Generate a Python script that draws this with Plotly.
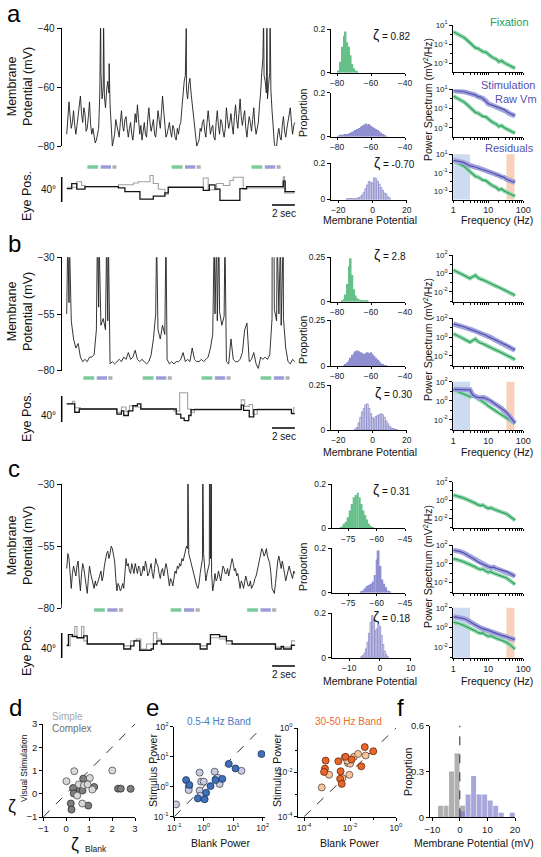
import plotly.graph_objects as go

# ============================ DATA ============================
DT_A, DT_B, DT_C = 0.1, 0.2, 0.1  # s between digitised Vm samples

VM_A = [
    -76, -71, -65, -70, -74, -72, -68, -73, -76, -73, -70, -66, -63, -69, -72, -67, -69, -75, -74, -70,
    -65, -73, -76, -74, -77, -79, -78, -76, -74, -62, -55, -64, -60, -63, -67, -61, -58, -62, -66, -74,
    -80, -78, -76, -71, -73, -76, -77, -72, -68, -73, -75, -71, -70, -74, -77, -74, -72, -76, -78, -74,
    -69, -72, -66, -71, -76, -73, -78, -75, -72, -76, -77, -71, -67, -72, -75, -73, -71, -76, -77, -73,
    -68, -71, -74, -69, -63, -68, -73, -77, -76, -74, -72, -75, -77, -73, -74, -77, -78, -74, -76, -73,
    -72, -67, -62, -58, -56, -61, -64, -59, -57, -62, -66, -70, -72, -77, -80, -79, -78, -74, -75, -72,
    -71, -75, -77, -72, -68, -72, -76, -74, -73, -77, -78, -72, -68, -73, -76, -71, -72, -75, -77, -74,
    -67, -71, -74, -72, -69, -73, -76, -70, -66, -71, -74, -69, -64, -70, -73, -70, -68, -74, -77, -73,
    -70, -72, -75, -71, -67, -73, -76, -74, -72, -66, -62, -55, -50, -56, -58, -62, -64, -59, -55, -61,
    -68, -75, -79, -81, -80, -76, -74, -77, -78, -73, -70, -75, -77, -74, -72, -69, -67, -72, -76, -73,
    -72]
SPK_A_T = [2.97, 3.23, 3.72, 10.48, 17.26, 17.55, 17.83]
SPK_A_V = [-35, -35, -52, -40, -35, -35, -35]

VM_B = [
    -55, -50, -58, -66, -70, -68, -74, -76, -75, -76,
    -74, -74, -73, -62, -52, -60, -57, -62, -58, -77,
    -76, -77, -76, -75, -76, -74, -75, -72, -75, -74,
    -71, -75, -76, -75, -76, -77, -76, -73, -66, -55,
    -62, -66, -60, -64, -75, -77, -76, -77, -76, -76,
    -75, -72, -76, -75, -76, -70, -75, -76, -76, -75,
    -76, -75, -74, -70, -64, -55, -58, -54, -60, -56,
    -76, -77, -66, -75, -76, -76, -75, -72, -62, -59,
    -76, -75, -72, -77, -79, -74, -75, -74, -75, -73,
    -57, -53, -58, -55, -60, -57, -70, -76, -77, -75,
    -76]
SPK_B_T = [0.09, 0.23, 2.69, 2.83, 3.50, 3.65, 7.88, 8.70, 12.93, 13.14, 13.34,
           13.87, 18.01, 18.17, 18.45, 18.74, 18.98]
SPK_B_V = [-20, -20, -20, -20, -20, -20, -20, -20, -20, -20, -20,
           -20, -20, -20, -20, -20, -20]

VM_C = [
    -64, -58, -60, -67, -72, -66, -63, -65, -67, -63, -61, -68, -73, -66, -62, -64, -67, -71, -74, -68,
    -63, -66, -68, -71, -72, -69, -71, -70, -68, -66, -65, -69, -67, -63, -60, -58, -57, -60, -58, -55,
    -56, -58, -61, -68, -73, -70, -71, -73, -72, -70, -72, -66, -60, -63, -62, -65, -66, -62, -64, -66,
    -62, -64, -66, -63, -64, -67, -66, -63, -65, -61, -63, -67, -66, -64, -62, -66, -68, -64, -60, -62,
    -63, -66, -68, -65, -64, -67, -65, -62, -64, -68, -71, -68, -69, -71, -68, -65, -66, -63, -64, -62,
    -63, -60, -61, -59, -58, -55, -56, -58, -60, -62, -63, -66, -67, -70, -71, -72, -70, -66, -63, -60,
    -58, -64, -69, -66, -64, -62, -60, -66, -73, -70, -66, -69, -68, -65, -67, -69, -66, -63, -64, -66,
    -66, -64, -67, -65, -63, -60, -62, -65, -64, -67, -66, -70, -72, -69, -70, -72, -70, -67, -69, -71,
    -71, -69, -72, -71, -70, -68, -67, -65, -63, -60, -58, -56, -57, -59, -58, -56, -59, -61, -62, -66,
    -72, -73, -74, -70, -65, -61, -59, -62, -64, -61, -63, -66, -69, -67, -66, -63, -65, -67, -68, -65,
    -66]
SPK_C_T = [10.62, 11.93, 12.52, 12.57, 12.63, 12.68]
SPK_C_V = [-20, -20, -20, -20, -20, -20]

# eye position (deg), step traces: black = horizontal, gray = vertical
EYE_A_TK = [0, 0.44, 0.88, 1.6, 4.53, 5.1, 6.42, 7.59, 8.61, 8.9, 11.97, 12.5, 13.0, 13.43,
            15.18, 15.77, 18.98, 19.15, 20]
EYE_A_K = [-3, 5, -4, 0, -2, -8, -20, -15, -10, -1, -6, 3, -4, -22, -3, 0, 9, -8, -8]
EYE_A_TG = [0, 0.88, 1.31, 1.6, 4.53, 5.84, 6.28, 7.3, 7.59, 8.03, 8.61, 8.9, 11.97, 12.4,
            13.14, 13.72, 14.3, 14.6, 15.47, 15.77, 18.98, 19.1, 20]
EYE_A_G = [-1, 8, 2, 0, 3, 6, 8, 18, 5, -4, -12, 0, 14, -5, 5, 2, 10, 15, -4, -2, 16, -10, -10]

EYE_B_TK = [0, 0.7, 1.1, 4.4, 4.8, 5.0, 5.4, 5.8, 6.2, 6.5, 9.6, 10.0, 10.3, 10.7, 10.9,
            15.3, 15.5, 16.0, 16.4, 19.7, 20]
EYE_B_K = [8, -5, 0, -8, -3, -10, -3, 5, 8, 0, -8, -14, -18, -10, -1, 6, -2, -12, -1, -7, -7]
EYE_B_TG = [0, 0.5, 0.7, 1.2, 4.4, 4.8, 5.2, 5.5, 6.0, 6.5, 9.4, 9.9, 10.6, 10.9, 11.2,
            15.3, 15.6, 16.0, 16.3, 16.7, 19.7, 19.9, 20]
EYE_B_G = [8, 12, 2, 0, -5, 3, -4, 5, 3, 0, -3, 25, 0, -5, 0, 14, 4, 7, -8, 0, -5, 2, 2]

EYE_C_TK = [0, 0.15, 0.5, 0.9, 1.5, 1.8, 5.0, 5.6, 5.9, 6.4, 7.4, 7.6, 7.9, 8.3, 11.7, 12.3,
            12.6, 13.4, 14.0, 14.5, 18.3, 18.8, 19.0, 19.7, 20]
EYE_C_K = [-2, 15, 12, 10, 13, 0, -8, -3, 5, -10, -8, 0, 5, 0, -8, 0, 15, 12, 5, 0, -8, -4,
           -8, -2, -2]
EYE_C_TG = [0, 0.3, 0.7, 0.9, 1.3, 1.5, 1.8, 5.0, 5.6, 6.1, 6.5, 7.0, 7.6, 7.9, 8.3, 11.7,
            12.3, 12.6, 13.4, 14.0, 18.3, 19.7, 20]
EYE_C_G = [-3, 12, 28, 10, 28, 5, 0, -3, 5, 8, -8, 0, 18, 8, 0, -3, 0, 10, 8, 0, -5, 5, 5]

# trial epochs (s): fixation / stimulation / blank onsets relative to each trial start
EPOCH_A = [1.81, 9.20, 16.20]
EPOCH_B = [1.46, 6.66, 11.82, 16.99]
EPOCH_C = [2.39, 9.11, 15.82]
EPOCH_ON = [0.0, 1.17, 2.19]
EPOCH_OFF = [0.95, 2.07, 2.55]

# histograms (proportion)
HA_FIX_X = [-79, -78, -77, -76, -75, -74, -73, -72, -71, -70, -69, -68]
HA_FIX = [0.01, 0.05, 0.12, 0.17, 0.19, 0.14, 0.12, 0.08, 0.04, 0.02, 0.01, 0.005]
HA_STIM_X = [-79, -78, -77, -76, -75, -74, -73, -72, -71, -70, -69, -68, -67, -66, -65,
             -64, -63, -62, -61, -60, -59, -58, -57, -56, -55, -54, -53, -52, -51]
HA_STIM = [0.004, 0.006, 0.008, 0.01, 0.012, 0.012, 0.015, 0.018, 0.022, 0.026, 0.03, 0.035,
           0.04, 0.045, 0.05, 0.055, 0.06, 0.055, 0.058, 0.05, 0.045, 0.04, 0.035, 0.03,
           0.024, 0.018, 0.012, 0.008, 0.004]
HA_RES_X = [-15, -14, -13, -12, -11, -10, -9, -8, -7, -6, -5, -4, -3, -2, -1, 0, 1, 2, 3, 4,
            5, 6, 7, 8, 9, 10]
HA_RES = [0.004, 0.005, 0.006, 0.005, 0.004, 0.005, 0.006, 0.01, 0.015, 0.025, 0.04, 0.06,
          0.08, 0.1, 0.095, 0.09, 0.12, 0.115, 0.1, 0.085, 0.065, 0.05, 0.035, 0.03, 0.015,
          0.008]

HB_FIX_X = [-77, -76, -75, -74, -73, -72, -71, -70, -69, -68, -67, -66, -65, -64, -63, -62]
HB_FIX = [0.005, 0.015, 0.04, 0.1, 0.2, 0.245, 0.15, 0.07, 0.035, 0.02, 0.012, 0.01, 0.008,
          0.006, 0.004, 0.003]
HB_STIM_X = [-76, -75, -74, -73, -72, -71, -70, -69, -68, -67, -66, -65, -64, -63, -62, -61,
             -60, -59, -58, -57, -56, -55, -54, -53, -52, -51]
HB_STIM = [0.005, 0.01, 0.02, 0.03, 0.045, 0.06, 0.07, 0.08, 0.085, 0.08, 0.075, 0.07, 0.065,
           0.07, 0.075, 0.07, 0.075, 0.065, 0.055, 0.045, 0.035, 0.025, 0.015, 0.01, 0.005,
           0.003]
HB_RES_X = [-10, -9, -8, -7, -6, -5, -4, -3, -2, -1, 0, 1, 2, 3, 4, 5, 6, 7, 8, 9, 10, 11,
            12, 13, 14]
HB_RES = [0.005, 0.015, 0.04, 0.07, 0.1, 0.12, 0.14, 0.145, 0.12, 0.09, 0.07, 0.06, 0.075,
          0.08, 0.085, 0.09, 0.085, 0.07, 0.05, 0.035, 0.02, 0.012, 0.008, 0.005, 0.003]

HC_FIX_X = [-79, -78, -77, -76, -75, -74, -73, -72, -71, -70, -69, -68, -67, -66, -65, -64,
            -63, -62]
HC_FIX = [0.005, 0.01, 0.02, 0.03, 0.05, 0.08, 0.11, 0.14, 0.15, 0.16, 0.14, 0.11, 0.08,
          0.06, 0.04, 0.02, 0.01, 0.005]
HC_STIM_X = [-68, -67, -66, -65, -64, -63, -62, -61, -60, -59, -58, -57, -56, -55, -54, -53]
HC_STIM = [0.005, 0.01, 0.02, 0.03, 0.035, 0.04, 0.05, 0.08, 0.15, 0.19, 0.12, 0.06, 0.04,
           0.025, 0.01, 0.005]
HC_RES_X = [-6, -5.5, -5, -4.5, -4, -3.5, -3, -2.5, -2, -1.5, -1, -0.5, 0, 0.5, 1, 1.5, 2, 2.5]
HC_RES = [0.005, 0.01, 0.02, 0.04, 0.07, 0.11, 0.16, 0.19, 0.17, 0.12, 0.13, 0.15, 0.14, 0.1,
          0.06, 0.03, 0.015, 0.005]

# power spectra (log10 mV^2/Hz)
FREQ = [1, 1.3, 1.6, 2, 2.5, 3, 3.6, 4.3, 5, 6, 7, 8.5, 10, 12, 14, 17, 20, 24, 28, 33, 40,
        48, 58]
PSD_A_FIX = [0.3, 0.1, -0.05, -0.3, -0.6, -0.85, -1.15, -1.4, -1.45, -1.65, -1.8, -1.85,
             -2.1, -2.3, -2.45, -2.6, -2.85, -2.75, -2.95, -3.1, -3.2, -3.4, -3.55]
PSD_A_STIM = [0.85, 0.85, 0.8, 0.75, 0.65, 0.6, 0.55, 0.4, 0.25, 0.2, 0.05, -0.2, -0.5, -0.6,
              -0.7, -0.85, -0.9, -1.05, -1.1, -1.3, -1.5, -1.6, -1.75]
PSD_A_RES = [0.35, 0.3, 0.2, 0.1, -0.1, -0.25, -0.3, -0.4, -0.45, -0.55, -0.6, -0.7, -0.85,
             -0.95, -1.05, -1.2, -1.3, -1.45, -1.5, -1.7, -1.85, -1.95, -2.05]
PSD_B_FIX = [0.36, 0.2, 0.0, -0.2, -0.4, -0.55, -0.35, -0.2, -0.45, -0.65, -0.7, -0.85, -1.0,
             -1.1, -1.25, -1.4, -1.5, -1.65, -1.75, -1.85, -2.0, -2.2, -2.4]
PSD_B_STIM = [1.4, 1.3, 1.2, 1.1, 0.95, 0.85, 0.75, 0.65, 0.55, 0.45, 0.35, 0.2, 0.05, -0.05,
              -0.2, -0.35, -0.5, -0.6, -0.75, -0.85, -1.0, -1.2, -1.4]
PSD_B_FIX_RES = [1.15, 1.0, 0.85, 0.7, 0.55, 0.4, 0.5, 0.45, 0.2, 0.05, -0.1, -0.3, -0.55,
                 -0.75, -0.9, -1.1, -1.3, -1.5, -1.65, -1.8, -2.0, -2.2, -2.4]
PSD_B_RES = [1.2, 1.2, 1.2, 1.2, 1.2, 1.15, 0.6, 0.4, 0.35, 0.3, 0.35, 0.25, 0.1, 0.0, -0.2,
             -0.4, -0.6, -0.8, -1.0, -1.2, -1.6, -2.0, -2.35]
PSD_C_FIX = [0.55, 0.45, 0.35, 0.2, 0.05, -0.05, -0.2, -0.35, -0.5, -0.6, -0.55, -0.8, -0.9,
             -0.85, -1.0, -1.1, -1.2, -1.25, -1.4, -1.5, -1.7, -1.95, -2.2]
PSD_C_STIM = [1.45, 1.4, 1.3, 1.15, 0.95, 0.75, 0.55, 0.4, 0.2, 0.05, -0.05, -0.2, -0.3, -0.4,
              -0.35, -0.5, -0.6, -0.65, -0.75, -0.8, -1.0, -1.15, -1.35]
PSD_C_RES = [1.1, 1.05, 1.0, 0.9, 0.75, 0.55, 0.4, 0.25, 0.1, -0.05, -0.15, -0.2, -0.3, -0.45,
             -0.55, -0.6, -0.7, -0.8, -0.85, -0.95, -1.1, -1.15, -1.25]
BAND_LOW = [0.5, 3.0]     # Hz
BAND_HIGH = [33, 56]      # Hz

ZETA = ["0.82", "-0.70", "2.8", "0.30", "0.31", "0.18"]

# panel d: zeta blank vs zeta visual stimulation
D_SIMPLE_X = [0.01, 0.35, 0.48, 0.55, 0.77, 0.70, 1.03, 0.93, 1.14, 2.01]
D_SIMPLE_Y = [0.54, 0.97, -0.08, 0.40, 0.37, -0.42, 0.68, 0.40, 0.18, 1.0]
D_COMPLEX_X = [0.30, 0.33, 0.20, 0.23, 0.59, 0.74, 0.71, 0.96, 1.22, 2.26, 2.38, 2.81]
D_COMPLEX_Y = [0.25, 0.01, -0.42, -0.68, 0.18, 0.65, 0.14, -0.51, 0.29, 0.22, 0.22, 0.21]

# panel e: log10 band power, blank vs stimulus
E_LOW_SIMPLE_X = [-0.94, -0.51, -0.51, -0.14, -0.14, -0.09, 0.0, -0.11, 0.37, 0.48, 0.54, 1.28]
E_LOW_SIMPLE_Y = [-0.59, -0.02, -0.11, 0.47, -0.13, 0.17, 0.17, -0.3, 0.5, 0.3, 0.09, 0.53]
E_LOW_COMPLEX_X = [-0.6, -0.49, -0.2, 0.03, 0.08, 0.23, 0.4, 0.63, 0.85, 1.08, 1.96]
E_LOW_COMPLEX_Y = [0.22, 0.06, -0.39, -0.42, -0.2, 0.02, 0.22, 0.26, 0.76, 0.61, 1.09]
E_HIGH_SIMPLE_X = [-3.23, -2.91, -2.33, -2.23, -2.09, -2.0, -2.12, -1.83, -1.65, -2.03, -1.32]
E_HIGH_SIMPLE_Y = [-2.68, -2.11, -2.26, -1.32, -1.58, -1.61, -1.47, -1.3, -1.17, -2.11, -1.24]
E_HIGH_COMPLEX_X = [-3.06, -3.09, -3.13, -2.51, -2.41, -2.43, -2.36, -2.19, -1.93, -1.51,
                    -1.36, -0.99]
E_HIGH_COMPLEX_Y = [-1.47, -1.83, -1.98, -1.5, -1.95, -2.29, -2.52, -1.3, -1.42, -1.73,
                    -0.86, -1.05]

# panel f: histogram of membrane potential (2 mV bins)
F_GRAY_X = [-7, -5, -3, -1, 1]
F_GRAY = [0.075, 0.075, 0.30, 0.42, 0.075]
F_BLUE_X = [1, 3, 5, 7, 9, 11, 13, 15, 17, 19]
F_BLUE = [0.04, 0.15, 0.27, 0.15, 0.15, 0.11, 0.075, 0.03, 0.0, 0.03]

# ============================ STYLE ============================
W, H = 541, 857
FONT = "Liberation Sans, Arial, Helvetica, sans-serif"
C_GREEN_BAR = '#7ccb9c'
C_BLUE_BAR = '#9c9cd8'
C_GRAY_BAR = '#b0b0b0'
C_HIST_G = '#66c08a'
C_HIST_B = '#8e8ed0'
C_PSD_G = '#23a056'
C_PSD_G_BAND = '#92d5ad'
C_PSD_B = '#5050b0'
C_PSD_B_BAND = '#a3a3dc'
C_TXT_B = '#5252b2'

fig = go.Figure()
ANN, SHP = [], []
_n = [0]


def axes(x0, x1, y0, y1, xa, ya):
    _n[0] += 1
    k = _n[0]
    s = '' if k == 1 else str(k)
    xd, yd = dict(xa), dict(ya)
    xd.update(domain=[x0 / W, x1 / W], anchor='y' + s)
    yd.update(domain=[1 - y1 / H, 1 - y0 / H], anchor='x' + s)
    fig.update_layout(**{'xaxis' + s: xd, 'yaxis' + s: yd})
    return 'x' + s, 'y' + s


def ax(size=9, **kw):
    d = dict(showline=True, linecolor='black', linewidth=1, ticks='outside', ticklen=3,
             tickwidth=1, tickcolor='black', showgrid=False, zeroline=False, automargin=False,
             tickfont=dict(size=size, family=FONT, color='#222'), fixedrange=True)
    d.update(kw)
    return d


HIDDEN = dict(visible=False, showgrid=False, zeroline=False, fixedrange=True)


def txt(x, y, s, size=10, color='#111', angle=0, xanchor='center', yanchor='middle'):
    ANN.append(dict(x=x / W, y=1 - y / H, xref='paper', yref='paper', text=s,
                    showarrow=False, textangle=angle, xanchor=xanchor, yanchor=yanchor,
                    font=dict(size=size, color=color, family=FONT)))


def line(xs, ys, xa, ya, color, width, dash=None, shape='linear', opacity=1.0):
    fig.add_trace(go.Scatter(x=xs, y=ys, mode='lines', xaxis=xa, yaxis=ya,
                             line=dict(color=color, width=width, dash=dash, shape=shape),
                             opacity=opacity, hoverinfo='skip', showlegend=False))


def sup(e):
    return '10<sup>%s</sup>' % e


ROWS = [
    dict(letter='a', ly=14, vm=VM_A, dt=DT_A, st=SPK_A_T, sv=SPK_A_V, vm_top=28.3, vm_bot=146,
         vm_rng=[-80, -40], vm_ticks=[-80, -60, -40], vm_lab=87,
         etk=EYE_A_TK, ek=EYE_A_K, etg=EYE_A_TG, eg=EYE_A_G, ep=EPOCH_A,
         e_top=160, e_bot=206, e_fix=186.7, ppd=0.625, bar=167, sc_top=177, sc_bot=202,
         deg_y=190, eyelab=196, sec_y=205,
         hists=[(HA_FIX_X, HA_FIX, 1, 'g', [-83.6, -40], [-80, -60, -40], 29.3, 72.7, 331, 405),
                (HA_STIM_X, HA_STIM, 1, 'b', [-83.6, -40], [-80, -60, -40], 92.7, 136.7, 331, 405),
                (HA_RES_X, HA_RES, 1, 'r', [-24.3, 20], [-20, 0, 20], 163.3, 199.5, 331, 406.7)],
         hy=[0, 0.2], hyt=['0', '0.2'], prop_y=113, mp_y=220, z1=(391, 35), z2=(394, 163),
         zt=(ZETA[0], ZETA[1]),
         psd=[(PSD_A_FIX, None, 25, 71.7), (PSD_A_FIX, PSD_A_STIM, 89.3, 136.7),
              (PSD_A_FIX, PSD_A_RES, 154.3, 199.5)],
         prng=[-3.9, 1], pt=[10, 0.1, 0.001], ptt=[sup(1), sup(-1), sup(-3)],
         pminor=[1, 0.01, 0.0001], ps_y=100, fr_y=220),
    dict(letter='b', ly=244, vm=VM_B, dt=DT_B, st=SPK_B_T, sv=SPK_B_V, vm_top=257.3, vm_bot=370.7,
         vm_rng=[-80, -30], vm_ticks=[-80, -55, -30], vm_lab=312,
         etk=EYE_B_TK, ek=EYE_B_K, etg=EYE_B_TG, eg=EYE_B_G, ep=EPOCH_B,
         e_top=372, e_bot=432, e_fix=409, ppd=0.65, bar=378, sc_top=396, sc_bot=422,
         deg_y=415, eyelab=417, sec_y=428,
         hists=[(HB_FIX_X, HB_FIX, 1, 'g', [-83.6, -40], [-80, -60, -40], 257.3, 301.7, 331, 405),
                (HB_STIM_X, HB_STIM, 1, 'b', [-83.6, -40], [-80, -60, -40], 320, 366, 331, 405),
                (HB_RES_X, HB_RES, 1, 'r', [-24.3, 20], [-20, 0, 20], 385, 430, 331, 406.7)],
         hy=[0, 0.25], hyt=['0', '0.25'], prop_y=340, mp_y=452, z1=(390, 255), z2=(393, 393),
         zt=(ZETA[2], ZETA[3]),
         psd=[(PSD_B_FIX, None, 255, 301.7), (PSD_B_FIX, PSD_B_STIM, 318.3, 366),
              (PSD_B_FIX_RES, PSD_B_RES, 381.7, 430)],
         prng=[-3.07, 2], pt=[100, 1, 0.01], ptt=[sup(2), sup(0), sup(-2)],
         pminor=[10, 0.1, 0.001], ps_y=340, fr_y=452),
    dict(letter='c', ly=468, vm=VM_C, dt=DT_C, st=SPK_C_T, sv=SPK_C_V, vm_top=484, vm_bot=608.3,
         vm_rng=[-80, -30], vm_ticks=[-80, -55, -30], vm_lab=546,
         etk=EYE_C_TK, ek=EYE_C_K, etg=EYE_C_TG, eg=EYE_C_G, ep=EPOCH_C,
         e_top=604, e_bot=664, e_fix=644, ppd=0.625, bar=610, sc_top=633, sc_bot=658,
         deg_y=648, eyelab=651, sec_y=666,
         hists=[(HC_FIX_X, HC_FIX, 1, 'g', [-83.8, -45], [-75, -60, -45], 484, 528.3, 331.7, 405),
                (HC_STIM_X, HC_STIM, 1, 'b', [-83.8, -45], [-75, -60, -45], 548.3, 592.7, 331.7, 405),
                (HC_RES_X, HC_RES, 0.5, 'r', [-15.7, 10], [-10, 0, 10], 613.3, 657.7, 331.7, 410.7)],
         hy=[0, 0.2], hyt=['0', '0.2'], prop_y=567, mp_y=681, z1=(391, 490), z2=(391, 617),
         zt=(ZETA[4], ZETA[5]),
         psd=[(PSD_C_FIX, None, 481.7, 528.3), (PSD_C_FIX, PSD_C_STIM, 545, 592.7),
              (PSD_C_FIX, PSD_C_RES, 607.7, 657.7)],
         prng=[-3.07, 2], pt=[100, 1, 0.01], ptt=[sup(2), sup(0), sup(-2)],
         pminor=[10, 0.1, 0.001], ps_y=567, fr_y=681),
]

T_RANGE = [-0.44, 20.1]
VM_X0, VM_X1 = 61.7, 296
MINOR_F = [2, 3, 4, 5, 6, 7, 8, 9, 20, 30, 40, 50, 60, 70, 80, 90]

for R in ROWS:
    txt(14, R['ly'], R['letter'], size=24, color='black')
    # ---- Vm trace
    xa, ya = axes(VM_X0, VM_X1, R['vm_top'], R['vm_bot'], dict(HIDDEN, range=T_RANGE),
                  ax(size=10, range=R['vm_rng'], tickvals=R['vm_ticks'], ticklen=4))
    pts = sorted([(i * R['dt'], v) for i, v in enumerate(R['vm'])] +
                 list(zip(R['st'], R['sv'])))
    line([p[0] for p in pts], [p[1] for p in pts], xa, ya, '#1e1e1e', 0.9)
    txt(20, R['vm_lab'], 'Membrane<br>Potential (mV)', size=12.5, angle=-90)
    # ---- eye position
    lo = -(R['e_bot'] - R['e_fix']) / R['ppd']
    hi = (R['e_fix'] - R['e_top']) / R['ppd']
    xe, ye = axes(VM_X0, VM_X1, R['e_top'], R['e_bot'], dict(HIDDEN, range=T_RANGE),
                  dict(HIDDEN, range=[lo, hi]))
    line(R['etg'], R['eg'], xe, ye, '#a0a0a0', 1.1, shape='hv')
    line(R['etk'], R['ek'], xe, ye, '#151515', 1.3, shape='hv')
    bar_deg = (R['e_fix'] - R['bar']) / R['ppd']
    for on, off, col in zip(EPOCH_ON, EPOCH_OFF, [C_GREEN_BAR, C_BLUE_BAR, C_GRAY_BAR]):
        bx, by = [], []
        for s in R['ep']:
            bx += [s + on, s + off, None]
            by += [bar_deg, bar_deg, None]
        line(bx, by, xe, ye, col, 3.5)
    SHP.append(dict(type='line', xref='paper', yref=ye, x0=VM_X0 / W, x1=VM_X0 / W,
                    y0=(R['e_fix'] - R['sc_top']) / R['ppd'],
                    y1=(R['e_fix'] - R['sc_bot']) / R['ppd'],
                    line=dict(color='black', width=1.5)))
    SHP.append(dict(type='line', xref=xe, yref='paper', x0=18, x1=20,
                    y0=1 - R['sec_y'] / H, y1=1 - R['sec_y'] / H,
                    line=dict(color='black', width=1.5)))
    txt(284, R['sec_y'] + 8, '2 sec', size=10)
    txt(58, R['deg_y'], '40\u00b0', size=10, xanchor='right')
    txt(27, R['eyelab'], 'Eye Pos.', size=12.5, angle=-90)
    # ---- histograms
    for (hx, hv, bw, kind, xr, xt, t0, t1, x0, x1) in R['hists']:
        xa, ya = axes(x0, x1, t0, t1, ax(size=8.5, range=xr, tickvals=xt, ticklen=2),
                      ax(size=8.5, range=R['hy'], tickvals=R['hy'], ticktext=R['hyt']))
        if kind == 'r':
            mk = dict(color='#dcdcf2', line=dict(color='#8383c6', width=0.7))
        else:
            mk = dict(color=C_HIST_G if kind == 'g' else C_HIST_B, line=dict(width=0))
        fig.add_trace(go.Bar(x=hx, y=hv, width=bw, marker=mk, xaxis=xa, yaxis=ya,
                             hoverinfo='skip', showlegend=False))
    txt(303, R['prop_y'], 'Proportion', size=10.5, angle=-90)
    txt(370, R['mp_y'], 'Membrane Potential', size=10.5)
    txt(R['z1'][0], R['z1'][1], '<span style="font-size:14px">\u03b6</span> = ' + R['zt'][0],
        size=10)
    txt(R['z2'][0], R['z2'][1], '<span style="font-size:14px">\u03b6</span> = ' + R['zt'][1],
        size=10)
    # ---- power spectra
    for j, (g, b, t0, t1) in enumerate(R['psd']):
        last = j == 2
        xa, ya = axes(453.3, 523.3, t0, t1,
                      ax(type='log', range=[0, 2], tickvals=[1, 10, 100], ticklen=2,
                         ticktext=['1', '10', '100'], showticklabels=last, size=9,
                         minor=dict(tickmode='array', tickvals=MINOR_F, ticks='outside',
                                    ticklen=2, tickcolor='black')),
                      ax(type='log', range=R['prng'], tickvals=R['pt'], ticktext=R['ptt'],
                         size=8, minor=dict(tickmode='array', tickvals=R['pminor'],
                                            ticks='outside', ticklen=2, tickcolor='black')))
        if last:
            for (blo, bhi), col in ((BAND_LOW, 'rgba(170,195,232,0.6)'),
                                    (BAND_HIGH, 'rgba(245,178,140,0.6)')):
                fig.add_trace(go.Scatter(x=[blo, bhi, bhi, blo, blo],
                                         y=[1e-6, 1e-6, 1e4, 1e4, 1e-6], fill='toself',
                                         fillcolor=col, mode='lines', line=dict(width=0),
                                         xaxis=xa, yaxis=ya, hoverinfo='skip',
                                         showlegend=False))
        gy = [10 ** v for v in g]
        line(FREQ, gy, xa, ya, C_PSD_G_BAND, 4)
        line(FREQ, gy, xa, ya, C_PSD_G, 1.1)
        if b is not None:
            by_ = [10 ** v for v in b]
            line(FREQ, by_, xa, ya, C_PSD_B_BAND, 5)
            line(FREQ, by_, xa, ya, C_PSD_B, 1.2)
    txt(427, R['ps_y'], 'Power Spectrum (mV<sup>2</sup>/Hz)', size=10.5, angle=-90)
    txt(497, R['fr_y'], 'Frequency (Hz)', size=10.5)

txt(509, 22, 'Fixation', size=11, color=C_PSD_G)
txt(508, 85, 'Stimulation', size=11, color=C_TXT_B)
txt(516, 99, 'Raw Vm', size=11, color=C_TXT_B)
txt(509, 148, 'Residuals', size=11, color=C_TXT_B)

# ============================ bottom row ============================
MK_W = 0.8
# d
xa, ya = axes(43.3, 135, 724, 817,
              ax(range=[-1, 3], tickvals=[-1, 0, 1, 2, 3], size=9.5),
              ax(range=[-1, 3], tickvals=[-1, 0, 1, 2, 3], size=9.5))
line([-1, 3], [-1, 3], xa, ya, '#333', 1, dash='dash')
fig.add_trace(go.Scatter(x=D_COMPLEX_X, y=D_COMPLEX_Y, mode='markers', xaxis=xa, yaxis=ya,
                         marker=dict(size=7, color='#7f7f7f', line=dict(color='#2e2e2e', width=MK_W)),
                         hoverinfo='skip', showlegend=False))
fig.add_trace(go.Scatter(x=D_SIMPLE_X, y=D_SIMPLE_Y, mode='markers', xaxis=xa, yaxis=ya,
                         marker=dict(size=7, color='#d8d8d8', line=dict(color='#505050', width=MK_W)),
                         hoverinfo='skip', showlegend=False))
txt(15, 707, 'd', size=24, color='black')
txt(50, 716, 'Simple', size=10, color='#a8a8a8', xanchor='left')
txt(50, 728, 'Complex', size=10, color='#6e6e6e', xanchor='left')
txt(12, 806, '\u03b6', size=18)
txt(24, 768, 'Visual Stimulation', size=8.5, angle=-90)
txt(75, 844, '\u03b6', size=18)
txt(83, 849, 'Blank', size=8.5, xanchor='left')

# e (low band)
xa, ya = axes(174.3, 265, 726.7, 816.7,
              ax(type='log', range=[-1, 2.08], tickvals=[0.1, 1, 10, 100],
                 ticktext=[sup(-1), sup(0), sup(1), sup(2)], size=8.5),
              ax(type='log', range=[-1, 2], tickvals=[0.1, 1, 10, 100],
                 ticktext=[sup(-1), sup(0), sup(1), sup(2)], size=8.5))
line([0.1, 100], [0.1, 100], xa, ya, '#333', 1, dash='dash')
fig.add_trace(go.Scatter(x=[10 ** v for v in E_LOW_SIMPLE_X], y=[10 ** v for v in E_LOW_SIMPLE_Y],
                         mode='markers', xaxis=xa, yaxis=ya,
                         marker=dict(size=7, color='#c8cbe6', line=dict(color='#4a4a4a', width=MK_W)),
                         hoverinfo='skip', showlegend=False))
fig.add_trace(go.Scatter(x=[10 ** v for v in E_LOW_COMPLEX_X], y=[10 ** v for v in E_LOW_COMPLEX_Y],
                         mode='markers', xaxis=xa, yaxis=ya,
                         marker=dict(size=7, color='#3e6fb8', line=dict(color='#1c3560', width=MK_W)),
                         hoverinfo='skip', showlegend=False))
txt(152, 707, 'e', size=24, color='black')
txt(219, 721, '0.5-4 Hz Band', size=10, color='#4a7cc2')
txt(220, 843, 'Blank Power', size=10.5)
txt(153, 771, 'Stimulus Power', size=10.5, angle=-90)

# e (high band)
xa, ya = axes(298.3, 396, 728, 816.7,
              ax(type='log', range=[-4.25, 0], tickvals=[1e-4, 1e-2, 1],
                 ticktext=[sup(-4), sup(-2), sup(0)], size=8.5,
                 minor=dict(tickmode='array', tickvals=[1e-3, 1e-1], ticks='outside', ticklen=2)),
              ax(type='log', range=[-4, 0], tickvals=[1e-4, 1e-2, 1],
                 ticktext=[sup(-4), sup(-2), sup(0)], size=8.5,
                 minor=dict(tickmode='array', tickvals=[1e-3, 1e-1], ticks='outside', ticklen=2)))
line([1e-4, 1], [1e-4, 1], xa, ya, '#333', 1, dash='dash')
fig.add_trace(go.Scatter(x=[10 ** v for v in E_HIGH_SIMPLE_X], y=[10 ** v for v in E_HIGH_SIMPLE_Y],
                         mode='markers', xaxis=xa, yaxis=ya,
                         marker=dict(size=7, color='#f8c49c', line=dict(color='#5a4a40', width=MK_W)),
                         hoverinfo='skip', showlegend=False))
fig.add_trace(go.Scatter(x=[10 ** v for v in E_HIGH_COMPLEX_X], y=[10 ** v for v in E_HIGH_COMPLEX_Y],
                         mode='markers', xaxis=xa, yaxis=ya,
                         marker=dict(size=7, color='#e9652a', line=dict(color='#6a2a0c', width=MK_W)),
                         hoverinfo='skip', showlegend=False))
txt(348, 721, '30-50 Hz Band', size=10, color='#ec6a2c')
txt(349, 843, 'Blank Power', size=10.5)
txt(277, 771, 'Stimulus Power', size=10.5, angle=-90)

# f
xa, ya = axes(430, 515, 725.7, 817.3,
              ax(range=[-10.8, 20], tickvals=[-10, 0, 10, 20], size=9.5),
              ax(range=[0, 0.6], tickvals=[0, 0.3, 0.6], ticktext=['0', '0.3', '0.6'], size=9.5))
fig.add_trace(go.Bar(x=F_GRAY_X, y=F_GRAY, width=1.8, xaxis=xa, yaxis=ya,
                     marker=dict(color='rgba(150,150,150,0.75)', line=dict(width=0)),
                     hoverinfo='skip', showlegend=False))
fig.add_trace(go.Bar(x=F_BLUE_X, y=F_BLUE, width=1.8, xaxis=xa, yaxis=ya,
                     marker=dict(color='rgba(120,120,200,0.65)', line=dict(width=0)),
                     hoverinfo='skip', showlegend=False))
line([0, 0], [0, 0.63], xa, ya, '#222', 1, dash='dash')
txt(400, 707, 'f', size=24, color='black')
txt(408, 772, 'Proportion', size=10.5, angle=-90)
txt(474, 843, 'Membrane Potential (mV)', size=10.5)

fig.update_layout(width=W, height=H, margin=dict(l=0, r=0, t=0, b=0, pad=0), autosize=False,
                  paper_bgcolor='white', plot_bgcolor='white', showlegend=False,
                  barmode='overlay', annotations=ANN, shapes=SHP,
                  font=dict(family=FONT, size=10, color='#111'))
fig.write_html("out.html", config={'displayModeBar': False},
               post_script="document.body.style.margin='0';document.body.style.padding='0';"
                           "document.body.style.overflow='hidden';")
